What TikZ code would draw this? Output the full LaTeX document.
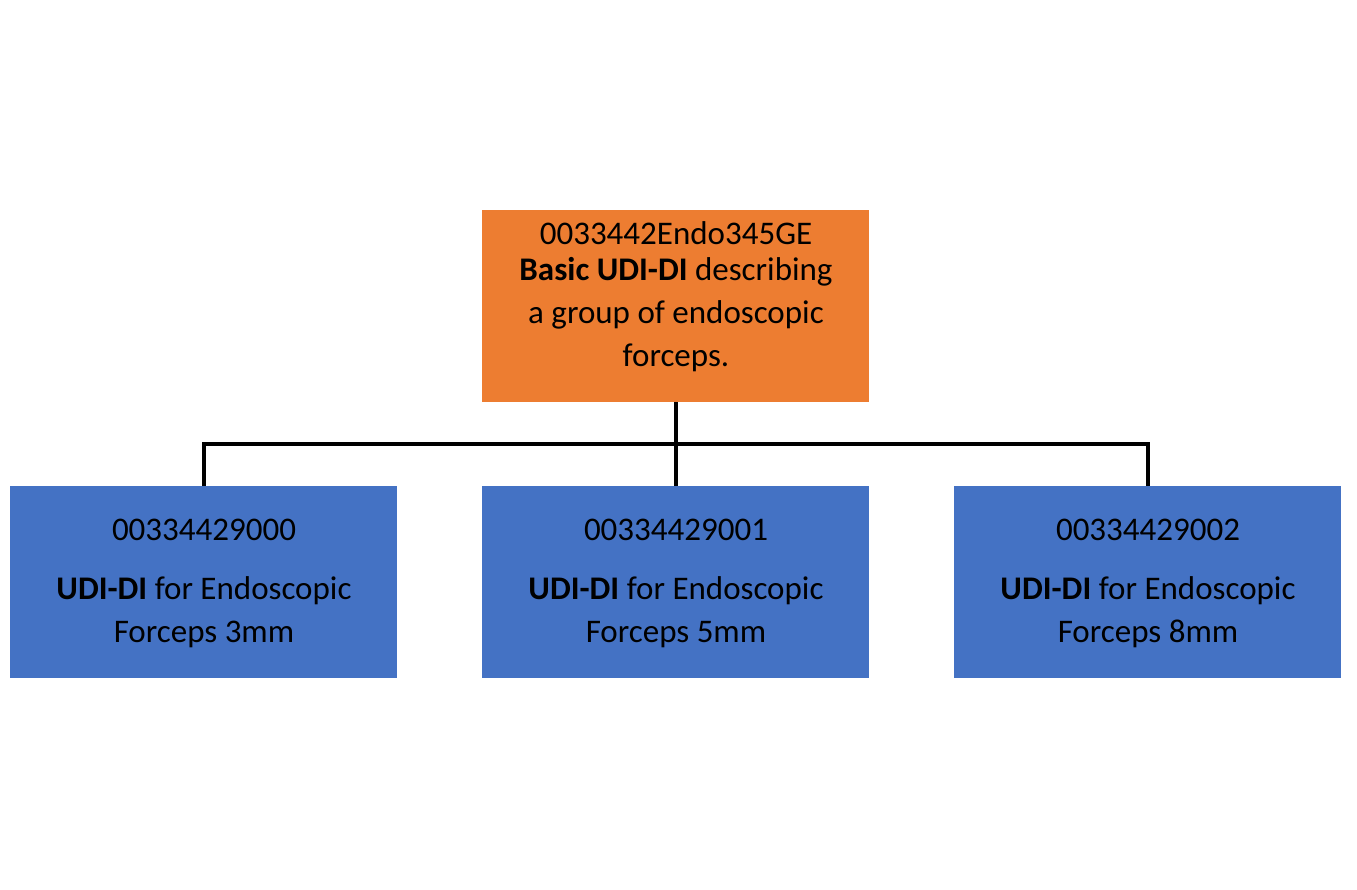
\documentclass[tikz,border=0pt]{standalone}
\usepackage{fontspec}
\setmainfont{Carlito}
\begin{document}
\begin{tikzpicture}[x=1pt,y=-1pt,
  box/.style={draw=none,minimum width=387pt,minimum height=192pt,inner sep=0pt,anchor=north west},
  txt/.style={font=\fontsize{33}{43}\selectfont,align=center,inner sep=0pt},
  conn/.style={line width=4pt,black}]
\useasboundingbox (0,0) rectangle (1357,889);
\definecolor{orangeC}{HTML}{ED7D31}
\definecolor{blueC}{HTML}{4472C4}
\node[box,fill=orangeC] (top) at (482,210) {};
\node[box,fill=blueC] (b1) at (10,486) {};
\node[box,fill=blueC] (b2) at (482,486) {};
\node[box,fill=blueC] (b3) at (954,486) {};
\node[txt] (t0) at (676,233) {0033442Endo345GE};
\node[txt] (t0b) at (676,315) {\textbf{Basic UDI-DI} describing\\a group of endoscopic\\forceps.};
\node[txt] (n1) at (204,530) {00334429000};
\node[txt] (d1) at (204,612) {\textbf{UDI-DI} for Endoscopic\\Forceps 3mm};
\node[txt] (n2) at (676,530) {00334429001};
\node[txt] (d2) at (676,612) {\textbf{UDI-DI} for Endoscopic\\Forceps 5mm};
\node[txt] (n3) at (1148,530) {00334429002};
\node[txt] (d3) at (1148,612) {\textbf{UDI-DI} for Endoscopic\\Forceps 8mm};
\coordinate (j) at (676,444);
\draw[conn] (top.south) -- (b2.north);
\draw[conn] (b1.north) -- (b1.north |- j) -- (b3.north |- j) -- (b3.north);
\end{tikzpicture}
\end{document}
